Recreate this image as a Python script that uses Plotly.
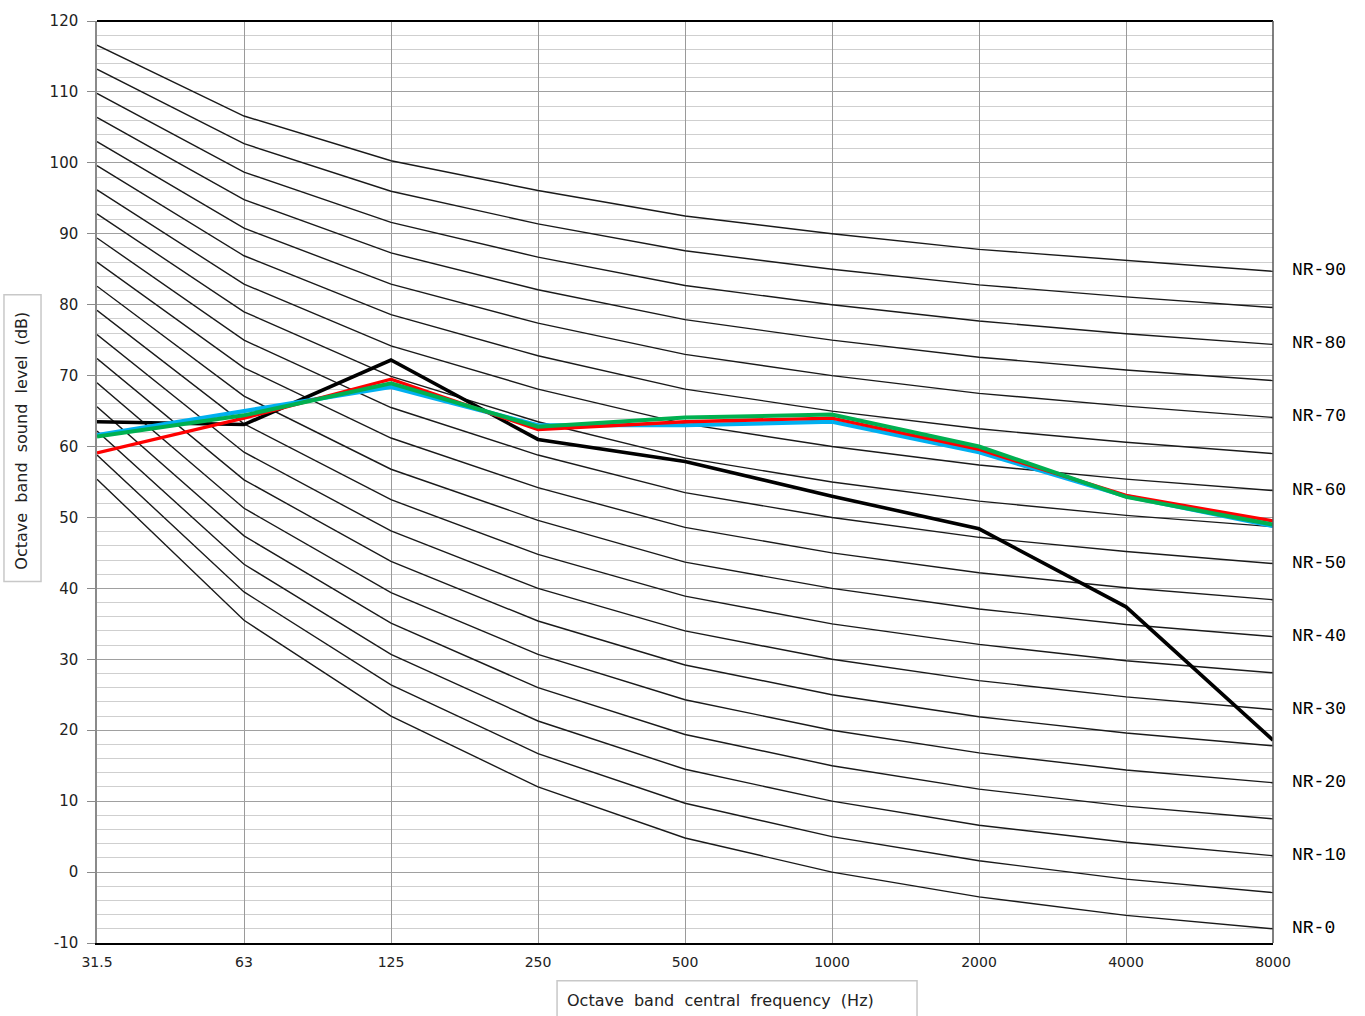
import plotly.graph_objects as go

# Octave band centre frequencies (Hz)
bands = ["31.5", "63", "125", "250", "500", "1000", "2000", "4000", "8000"]

# Noise Rating curves, sound level (dB) per octave band, NR-0 ... NR-90 in 5 dB steps
nr_levels = [0, 5, 10, 15, 20, 25, 30, 35, 40, 45, 50, 55, 60, 65, 70, 75, 80, 85, 90]
nr_curves = {
    0:  [55.4, 35.5, 22.0, 12.0, 4.8, 0.0, -3.5, -6.1, -8.0],
    5:  [58.8, 39.5, 26.4, 16.7, 9.7, 5.0, 1.6, -1.0, -2.9],
    10: [62.2, 43.4, 30.7, 21.3, 14.5, 10.0, 6.6, 4.2, 2.3],
    15: [65.6, 47.4, 35.1, 26.0, 19.4, 15.0, 11.7, 9.3, 7.5],
    20: [69.0, 51.3, 39.4, 30.7, 24.3, 20.0, 16.8, 14.4, 12.6],
    25: [72.4, 55.3, 43.8, 35.4, 29.2, 25.0, 21.9, 19.6, 17.8],
    30: [75.8, 59.2, 48.1, 40.0, 34.0, 30.0, 27.0, 24.7, 22.9],
    35: [79.2, 63.2, 52.5, 44.8, 38.9, 35.0, 32.1, 29.8, 28.1],
    40: [82.6, 67.1, 56.8, 49.6, 43.7, 40.0, 37.1, 34.9, 33.2],
    45: [86.0, 71.1, 61.2, 54.2, 48.6, 45.0, 42.2, 40.1, 38.4],
    50: [89.4, 75.0, 65.5, 58.8, 53.5, 50.0, 47.2, 45.2, 43.5],
    55: [92.8, 79.0, 69.9, 63.5, 58.4, 55.0, 52.3, 50.3, 48.7],
    60: [96.2, 82.9, 74.2, 68.1, 63.2, 60.0, 57.4, 55.4, 53.8],
    65: [99.6, 86.9, 78.6, 72.8, 68.1, 65.0, 62.5, 60.6, 59.0],
    70: [103.0, 90.8, 82.9, 77.4, 73.0, 70.0, 67.5, 65.7, 64.1],
    75: [106.4, 94.8, 87.3, 82.1, 77.9, 75.0, 72.6, 70.8, 69.3],
    80: [109.8, 98.7, 91.6, 86.7, 82.7, 80.0, 77.7, 75.9, 74.4],
    85: [113.2, 102.7, 96.0, 91.4, 87.6, 85.0, 82.8, 81.1, 79.6],
    90: [116.6, 106.6, 100.3, 96.1, 92.5, 90.0, 87.8, 86.2, 84.7],
}
nr_labelled = [0, 10, 20, 30, 40, 50, 60, 70, 80, 90]

# Sound level axis ticks
level_ticks = [-10, 0, 10, 20, 30, 40, 50, 60, 70, 80, 90, 100, 110, 120]
level_tick_text = ["-10", "0", "10", "20", "30", "40", "50", "60", "70",
                   "80", "90", "100", "110", "120"]

# Measured octave band spectra (dB)
spectrum_black = [63.5, 63.1, 72.2, 61.0, 57.9, 53.0, 48.4, 37.4, 18.6]
spectrum_blue = [61.6, 65.0, 68.4, 63.0, 63.0, 63.5, 59.2, 53.0, 48.8]
spectrum_red = [59.1, 64.0, 69.5, 62.4, 63.5, 64.0, 59.6, 53.1, 49.5]
spectrum_green = [61.4, 64.4, 68.9, 62.8, 64.1, 64.5, 60.0, 52.9, 49.0]

fig = go.Figure()

for n in nr_levels:
    fig.add_trace(go.Scatter(
        x=bands, y=nr_curves[n], mode="lines",
        line=dict(color="#1a1a1a", width=1.4),
        hoverinfo="skip", showlegend=False, name=f"NR-{n}",
    ))

for ys, col, w in [
    (spectrum_black, "#000000", 3.6),
    (spectrum_blue, "#00b0f0", 4.2),
    (spectrum_red, "#ff0000", 3.4),
    (spectrum_green, "#00b050", 4.0),
]:
    fig.add_trace(go.Scatter(
        x=bands, y=ys, mode="lines",
        line=dict(color=col, width=w),
        showlegend=False,
    ))

# NR labels beside the right-hand end of each labelled curve
for n in nr_labelled:
    fig.add_annotation(
        xref="paper", yref="y", x=1, y=nr_curves[n][-1], text=f"NR-{n}",
        xanchor="left", yanchor="middle", xshift=17, yshift=1, showarrow=False,
        font=dict(family="Liberation Mono", size=18, color="#000000"),
    )

# Axis title boxes
fig.add_shape(type="rect", xref="paper", yref="paper",
              x0=-0.0791, x1=-0.0476, y0=0.392, y1=0.703,
              line=dict(color="#c8c8c8", width=1.5), fillcolor="white")
fig.add_annotation(
    xref="paper", yref="paper", x=-0.0642, y=0.5443,
    text="Octave\u00a0 band\u00a0 sound\u00a0 level\u00a0 (dB)", textangle=-90,
    showarrow=False, xanchor="center", yanchor="middle",
    font=dict(family="DejaVu Sans", size=16, color="#222222"),
)
fig.add_shape(type="rect", xref="paper", yref="paper",
              x0=0.3912, x1=0.6973, y0=-0.041, y1=-0.09,
              line=dict(color="#c8c8c8", width=1.5), fillcolor="white")
fig.add_annotation(
    xref="paper", yref="paper", x=0.5306, y=-0.0628,
    text="Octave\u00a0 band\u00a0 central\u00a0 frequency\u00a0 (Hz)",
    showarrow=False, xanchor="center", yanchor="middle",
    font=dict(family="DejaVu Sans", size=16, color="#222222"),
)

# Frame: black top, grey right edge
fig.add_shape(type="line", xref="paper", yref="paper", x0=0, x1=1, y0=1, y1=1,
              line=dict(color="#000000", width=2))
fig.add_shape(type="line", xref="paper", yref="paper", x0=1, x1=1, y0=0, y1=1,
              line=dict(color="#555555", width=1.5))

fig.update_xaxes(
    type="category", categoryorder="array", categoryarray=bands,
    range=[0, len(bands) - 1],
    showgrid=True, gridcolor="#9a9a9a", gridwidth=1.2,
    showline=True, linecolor="#000000", linewidth=2,
    ticks="", ticklabelstandoff=5,
    tickfont=dict(family="DejaVu Sans", size=14, color="#222222"),
    zeroline=False,
)
fig.update_yaxes(
    range=[-10, 120], tickmode="array", tickvals=level_ticks, ticktext=level_tick_text,
    showgrid=True, gridcolor="#a0a0a0", gridwidth=1.2,
    minor=dict(dtick=2, tick0=0, showgrid=True, gridcolor="#cfcfcf", gridwidth=1.2),
    showline=True, linecolor="#8a8a8a", linewidth=1.5,
    ticks="outside", ticklen=8, tickcolor="#8a8a8a", ticklabelstandoff=6,
    tickfont=dict(family="DejaVu Sans", size=15, color="#222222"),
    zeroline=False,
)

fig.update_layout(
    width=1365, height=1016,
    margin=dict(l=97, r=92, t=17, b=73),
    plot_bgcolor="white", paper_bgcolor="white",
    showlegend=False,
)

fig.write_html("out.html")
